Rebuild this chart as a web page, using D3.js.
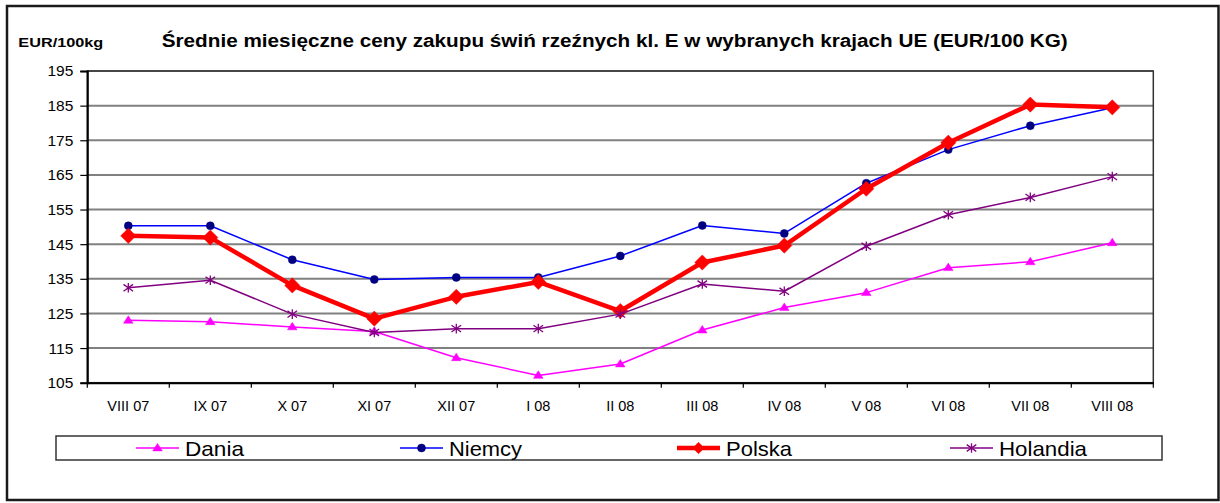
<!DOCTYPE html>
<html><head><meta charset="utf-8">
<script src="https://cdn.jsdelivr.net/npm/d3@7"></script>
<style>
body{margin:0;background:#fff}
svg{display:block}
text{font-family:"Liberation Sans",Arial,Helvetica,sans-serif;fill:#000}
</style>
</head><body>
<svg id="c" width="1220" height="503"></svg>
<script>
// ---- data ----
const categories = ["VIII 07","IX 07","X 07","XI 07","XII 07","I 08","II 08","III 08","IV 08","V 08","VI 08","VII 08","VIII 08"];
const dania    = [123.0,122.6,121.1,119.8,112.2,107.1,110.4,120.2,126.7,131.0,138.2,139.9,145.4];
const niemcy   = [150.3,150.3,140.5,134.8,135.4,135.4,141.6,150.4,148.1,162.6,172.3,179.2,184.4];
const polska   = [147.4,146.9,133.1,123.5,129.8,134.1,125.7,139.7,144.6,161.0,174.3,185.3,184.5];
const holandia = [132.4,134.6,124.8,119.5,120.6,120.6,124.8,133.5,131.4,144.4,153.5,158.5,164.5];
const yTicks = [105,115,125,135,145,155,165,175,185,195];
const seriesNames = ["Dania","Niemcy","Polska","Holandia"];
const titleText = "Średnie miesięczne ceny zakupu świń rzeźnych kl. E w wybranych krajach UE (EUR/100 KG)";
const unitText = "EUR/100kg";

// ---- layout / style ----
const plot = {x0: 87.3, x1: 1153.3, y0: 71, y1: 382.7};
const styles = {
  Dania:    {line:"#FF00FF", width:1.5, fill:"#FF00FF", marker:"triangle", legendX:136, textLen:59},
  Niemcy:   {line:"#0000FF", width:1.5, fill:"#000080", marker:"circle",   legendX:400, textLen:73},
  Polska:   {line:"#FF0000", width:4.5, fill:"#FF0000", marker:"diamond",  legendX:677, textLen:66},
  Holandia: {line:"#800080", width:1.5, fill:"#800080", marker:"star",     legendX:950, textLen:88}
};
const values = {Dania:dania, Niemcy:niemcy, Polska:polska, Holandia:holandia};

function markerPath(type, s){
  s = s || 1;
  if(type==="triangle"){ return `M0,${-4.6*s}L${4.8*s},${2.9*s}L${-4.8*s},${2.9*s}Z`; }
  if(type==="diamond"){ const r=7.6*s; return `M0,${-r}L${r},0L0,${r}L${-r},0Z`; }
  if(type==="star"){ const r=4.8*s, q=3.4*s; return `M0,${-r}L0,${r}M${-r},${-q}L${r},${q}M${-r},${q}L${r},${-q}`; }
  return d3.symbol(d3.symbolCircle, 50*s*s)();
}

const svg = d3.select("#c");
svg.append("rect").attr("width",1220).attr("height",503).attr("fill","#fff");
// outer frame
svg.append("rect").attr("x",7).attr("y",6).attr("width",1211.5).attr("height",494)
  .attr("fill","none").attr("stroke","#1a1a1a").attr("stroke-width",2.5);

const x = d3.scaleBand().domain(categories).range([plot.x0, plot.x1]);
const y = d3.scaleLinear().domain([105,195]).range([plot.y1, plot.y0]);
const cx = d => x(d) + x.bandwidth()/2;

// gridlines
svg.append("g").selectAll("line").data(yTicks.filter(t=>t>105)).join("line")
  .attr("x1",plot.x0).attr("x2",plot.x1).attr("y1",d=>y(d)).attr("y2",d=>y(d))
  .attr("stroke","#808080").attr("stroke-width",2);
// plot border
svg.append("rect").attr("x",plot.x0).attr("y",plot.y0).attr("width",plot.x1-plot.x0).attr("height",plot.y1-plot.y0)
  .attr("fill","none").attr("stroke","#333").attr("stroke-width",1.5);

// y axis
const yAxis = d3.axisLeft(y).tickValues(yTicks).tickSize(7).tickPadding(7).tickFormat(d3.format("d"));
const gy = svg.append("g").attr("transform",`translate(${plot.x0},0)`).call(yAxis);
gy.select(".domain").attr("stroke","#000").attr("stroke-width",2);
gy.selectAll(".tick line").attr("stroke","#000").attr("stroke-width",1.2);
gy.selectAll(".tick text").attr("font-size",15.5).attr("font-family","Liberation Sans, Arial, sans-serif");

// x axis
const xAxis = d3.axisBottom(x).tickSize(0).tickPadding(0);
const gx = svg.append("g").attr("transform",`translate(0,${plot.y1})`).call(xAxis);
gx.select(".domain").attr("stroke","#000").attr("stroke-width",2);
gx.selectAll(".tick text").attr("font-size",14.5).attr("dy",0).attr("y",28.5)
  .attr("font-family","Liberation Sans, Arial, sans-serif");
// tick marks at category boundaries
const bounds = categories.map(c=>x(c)).concat([plot.x1]);
gx.selectAll("line.bt").data(bounds).join("line").attr("class","bt")
  .attr("x1",d=>d).attr("x2",d=>d).attr("y1",0).attr("y2",5)
  .attr("stroke","#000").attr("stroke-width",1.2);

// series
const line = d3.line().x((d,i)=>cx(categories[i])).y(d=>y(d));
seriesNames.forEach(name=>{
  const st = styles[name], vals = values[name];
  const g = svg.append("g");
  g.append("path").datum(vals).attr("d",line).attr("fill","none")
    .attr("stroke",st.line).attr("stroke-width",st.width).attr("stroke-linejoin","round");
  g.selectAll("path.m").data(vals).join("path").attr("class","m")
    .attr("transform",(d,i)=>`translate(${cx(categories[i])},${y(d)})`)
    .attr("d",markerPath(st.marker))
    .attr("fill",st.marker==="star"?"none":st.fill)
    .attr("stroke",st.fill).attr("stroke-width",st.marker==="star"?1.3:0.5);
});

// titles
svg.append("text").attr("x",161.7).attr("y",46.5).attr("font-weight","bold").attr("font-size",17.5)
  .attr("textLength",906).attr("lengthAdjust","spacingAndGlyphs").text(titleText);
svg.append("text").attr("x",18.3).attr("y",46.5).attr("font-weight","bold").attr("font-size",13)
  .attr("textLength",85).attr("lengthAdjust","spacingAndGlyphs").text(unitText);

// legend
svg.append("rect").attr("x",56).attr("y",436).attr("width",1106).attr("height",24)
  .attr("fill","#fff").attr("stroke","#333").attr("stroke-width",1.5);
seriesNames.forEach(name=>{
  const st = styles[name], lx = st.legendX, ly = 448;
  const g = svg.append("g");
  g.append("line").attr("x1",lx).attr("x2",lx+43).attr("y1",ly).attr("y2",ly)
    .attr("stroke",st.line).attr("stroke-width",st.width);
  g.append("path").attr("transform",`translate(${lx+21.5},${ly})`)
    .attr("d",markerPath(st.marker, st.marker==="diamond"?0.75:1))
    .attr("fill",st.marker==="star"?"none":st.fill)
    .attr("stroke",st.fill).attr("stroke-width",st.marker==="star"?1.3:0.5);
  g.append("text").attr("x",lx+49).attr("y",456).attr("font-size",21)
    .attr("textLength",st.textLen).attr("lengthAdjust","spacingAndGlyphs").text(name);
});
</script>
</body></html>
